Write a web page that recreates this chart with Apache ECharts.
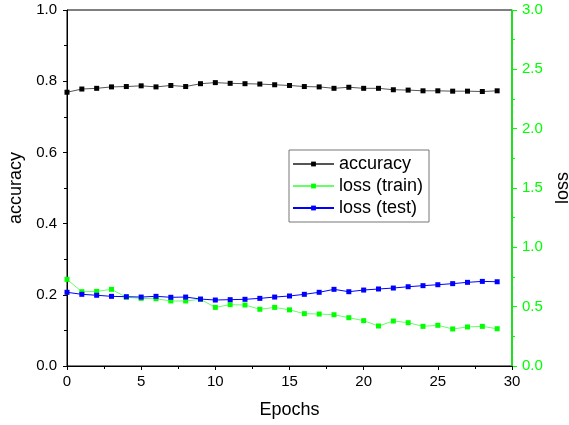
<!DOCTYPE html>
<html>
<head>
<meta charset="utf-8">
<script src="https://cdn.jsdelivr.net/npm/echarts@6/dist/echarts.min.js"></script>
<style>
  html, body { margin: 0; padding: 0; background: #fff; }
  #main { width: 569px; height: 425px; }
</style>
</head>
<body>
<div id="main"></div>
<script>
// epochs 0..29
var epochs = [0,1,2,3,4,5,6,7,8,9,10,11,12,13,14,15,16,17,18,19,20,21,22,23,24,25,26,27,28,29];

var accuracy = [0.769,0.778,0.780,0.784,0.785,0.787,0.784,0.788,0.785,0.793,
                0.796,0.794,0.793,0.792,0.790,0.788,0.785,0.784,0.780,0.783,
                0.780,0.780,0.776,0.775,0.773,0.773,0.772,0.772,0.771,0.773];

var lossTrain = [0.730,0.626,0.629,0.646,0.579,0.570,0.567,0.548,0.548,0.562,
                 0.494,0.517,0.514,0.478,0.494,0.473,0.441,0.438,0.432,0.407,
                 0.382,0.337,0.379,0.365,0.334,0.343,0.312,0.329,0.334,0.314];

var lossTest = [0.621,0.604,0.596,0.587,0.584,0.581,0.587,0.579,0.581,0.564,
                0.556,0.559,0.562,0.570,0.581,0.590,0.604,0.621,0.646,0.626,
                0.640,0.649,0.657,0.668,0.677,0.685,0.694,0.705,0.713,0.710];

function pairs(xs, ys) {
  return xs.map(function (x, i) { return [x, ys[i]]; });
}

var font = 'Liberation Sans, Arial, sans-serif';

var chart = echarts.init(document.getElementById('main'));

var option = {
  animation: false,
  grid: { left: 67, right: 57, top: 10, bottom: 59, outerBoundsMode: 'none',
    show: true, borderColor: '#000', borderWidth: 1 },
  legend: {
    orient: 'vertical',
    left: 289,
    top: 150,
    padding: [5, 6, 5, 3],
    itemWidth: 41,
    itemHeight: 6,
    itemGap: 4,
    borderColor: '#777',
    borderWidth: 1,
    backgroundColor: '#fff',
    textStyle: { fontFamily: font, fontSize: 18, color: '#000' },
    data: ['accuracy', 'loss (train)', 'loss (test)']
  },
  xAxis: {
    type: 'value',
    min: 0, max: 30, interval: 5,
    name: 'Epochs',
    nameLocation: 'middle',
    nameGap: 35,
    nameTextStyle: { fontFamily: font, fontSize: 18, color: '#000' },
    axisLine: { lineStyle: { color: '#000', width: 1 } },
    axisTick: { inside: false, length: 4, lineStyle: { color: '#000' } },
    minorTick: { show: true, splitNumber: 2, length: 3, lineStyle: { color: '#000' } },
    axisLabel: { fontFamily: font, fontSize: 15, color: '#000', margin: 8 },
    splitLine: { show: false }
  },
  yAxis: [{
    type: 'value',
    min: 0, max: 1, interval: 0.2,
    name: 'accuracy',
    nameLocation: 'middle',
    nameGap: 38,
    nameTextStyle: { fontFamily: font, fontSize: 18, color: '#000' },
    axisLine: { show: true, lineStyle: { color: '#000', width: 1 } },
    axisTick: { show: true, length: 4, lineStyle: { color: '#000' } },
    minorTick: { show: true, splitNumber: 2, length: 3, lineStyle: { color: '#000' } },
    axisLabel: { fontFamily: font, fontSize: 15, color: '#000', margin: 10,
      formatter: function (v) { return v.toFixed(1); } },
    splitLine: { show: false }
  }, {
    type: 'value',
    min: 0, max: 3, interval: 0.5,
    position: 'right',
    name: 'loss',
    nameLocation: 'middle',
    nameGap: 40,
    nameTextStyle: { fontFamily: font, fontSize: 18, color: '#000' },
    axisLine: { show: true, lineStyle: { color: '#00ff00', width: 1.5 } },
    axisTick: { show: true, length: 5, lineStyle: { color: '#00ff00' } },
    minorTick: { show: true, splitNumber: 2, length: 3, lineStyle: { color: '#00ff00' } },
    axisLabel: { fontFamily: font, fontSize: 15, color: '#00ff00', margin: 10,
      formatter: function (v) { return v.toFixed(1); } },
    splitLine: { show: false }
  }],
  series: [{
    name: 'accuracy',
    type: 'line',
    yAxisIndex: 0,
    data: pairs(epochs, accuracy),
    symbol: 'rect',
    symbolSize: 5,
    lineStyle: { color: '#555', width: 1 },
    itemStyle: { color: '#000' }
  }, {
    name: 'loss (train)',
    type: 'line',
    yAxisIndex: 1,
    data: pairs(epochs, lossTrain),
    symbol: 'rect',
    symbolSize: 5,
    lineStyle: { color: '#66ff66', width: 1 },
    itemStyle: { color: '#00ff00' }
  }, {
    name: 'loss (test)',
    type: 'line',
    yAxisIndex: 1,
    data: pairs(epochs, lossTest),
    symbol: 'rect',
    symbolSize: 5,
    lineStyle: { color: '#0000ff', width: 1 },
    itemStyle: { color: '#0000ff' }
  }]
};

chart.setOption(option);
</script>
</body>
</html>
